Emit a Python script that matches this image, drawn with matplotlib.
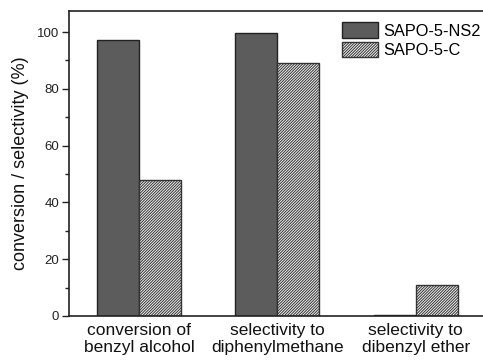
import numpy as np
import matplotlib
matplotlib.use("Agg")
import matplotlib.pyplot as plt

plt.rcParams['font.family'] = ['Liberation Sans', 'DejaVu Sans']
plt.rcParams['hatch.linewidth'] = 0.7
plt.rcParams['hatch.color'] = '#555555'

categories = ['conversion of\nbenzyl alcohol', 'selectivity to\ndiphenylmethane', 'selectivity to\ndibenzyl ether']
ns2 = [97.1, 99.5, 0.5]
sapo_c = [47.9, 89.2, 11.0]

fig = plt.figure(figsize=(4.83, 3.64), dpi=100)
ax = fig.add_axes([69 / 483, 1 - 316 / 364, 416 / 483, 305 / 364])

x = np.arange(len(categories))
w = 0.303
ax.bar(x - w / 2, ns2, w, color='#5c5c5c', edgecolor='#222222', linewidth=1.0, label='SAPO-5-NS2')
ax.bar(x + w / 2, sapo_c, w, color='#f2f2f2', edgecolor='#333333', linewidth=1.0,
       hatch='/' * 12, label='SAPO-5-C')

ax.set_xlim(-0.505, 2.5)
ax.set_ylim(0, 107.4)
ax.set_yticks([0, 20, 40, 60, 80, 100])
ax.set_yticks(np.arange(10, 101, 20), minor=True)
ax.tick_params(axis='y', which='major', direction='out', length=5, width=1, labelsize=9.5,
               colors='#222222', pad=2)
ax.tick_params(axis='y', which='minor', direction='out', length=3, width=1, colors='#222222')
ax.set_xticks(x)
ax.set_xticklabels(categories, fontsize=12.5, linespacing=1.15, color='#111111')
ax.tick_params(axis='x', length=0, pad=5)

for s in ['left', 'top', 'bottom']:
    ax.spines[s].set_linewidth(1.2)
    ax.spines[s].set_color('#222222')
ax.spines['right'].set_visible(False)

ax.set_ylabel('conversion / selectivity (%)', fontsize=13, labelpad=6, color='#111111')

ax.legend(loc='upper left', bbox_to_anchor=(0.629, 1.0), frameon=False, fontsize=11.8,
          handlelength=2.2, handleheight=1.05, handletextpad=0.3, labelspacing=0.2,
          borderpad=0.2)

fig.savefig('out.png', dpi=100)
